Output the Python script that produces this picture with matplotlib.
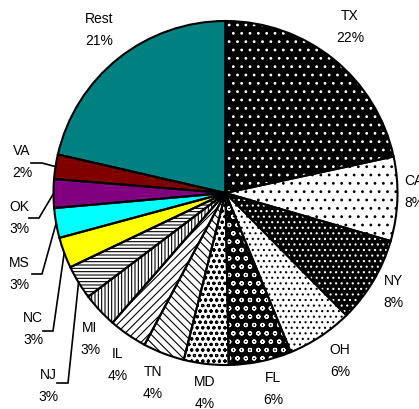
import matplotlib
matplotlib.use("Agg")
import matplotlib.pyplot as plt
import numpy as np

# ---- data ----
states = ['TX', 'CA', 'NY', 'OH', 'FL', 'MD', 'TN', 'IL', 'MI', 'NJ', 'NC', 'MS', 'OK', 'VA', 'Rest']
values = [21.6, 7.9, 8.1, 6.2, 5.9, 4.2, 3.9, 3.6, 3.3, 3.2, 2.9, 2.8, 2.7, 2.3, 21.4]

# ---- styles ----
faces = ['black', 'white', 'black', 'white', 'black', 'white', 'white', 'white',
         'white', 'white', '#FFFF00', '#00FFFF', '#800080', '#800000', '#008080']
hatch_colors = ['white', 'black', 'white', 'black', 'white', 'black', 'black', 'black',
                'black', 'black', '#FFFF00', '#00FFFF', '#800080', '#800000', '#008080']
hatches = ['..', '..', '...', '...', 'oo', 'ooo', '\\\\\\\\', '////',
           '|||||', '-----', None, None, None, None, None]

# label centres in pixel layout (x, y from top)
label_pos = {
    'TX': (350, 26.5), 'CA': (414, 192), 'NY': (393, 292), 'OH': (340, 361),
    'FL': (273, 389), 'MD': (205, 393), 'TN': (153, 383), 'IL': (118, 365),
    'MI': (90, 339), 'NJ': (48, 386), 'NC': (33, 329), 'MS': (19, 274),
    'OK': (19, 218), 'VA': (22, 162), 'Rest': (99, 30),
}
# leader lines: (x start, x elbow, y) in pixel layout
leaders = {
    'VA': (31, 42, 163), 'OK': (29, 39, 218), 'MS': (32, 42, 274),
    'NC': (43, 53, 331), 'NJ': (57, 68, 383),
}

W, H = 419, 409
plt.rcParams['hatch.linewidth'] = 0.8
fig = plt.figure(figsize=(W / 100, H / 100), dpi=100)
ax = fig.add_axes([0, 0, 1, 1])

cx, cy, R = 225.5, H - 193, 172

wedges, _ = ax.pie(values, startangle=90, counterclock=False,
                   center=(cx, cy), radius=R, colors=faces,
                   wedgeprops=dict(linewidth=0), frame=True)
for w, h, hc in zip(wedges, hatches, hatch_colors):
    w.set_edgecolor(hc)
    if h:
        w.set_hatch(h)

outl, _ = ax.pie(values, startangle=90, counterclock=False,
                 center=(cx, cy), radius=R,
                 wedgeprops=dict(fill=False, edgecolor='black', linewidth=1.5),
                 frame=True)

font = dict(family='Liberation Sans', fontsize=10, color='black',
            ha='center', va='center')
for s, v in zip(states, values):
    x, y = label_pos[s]
    ax.text(x, H - (y - 11), s, **font)
    ax.text(x, H - (y + 11), f"{round(v)}%", **font)

# leader lines ending on the wedge edge at mid-angle
total = sum(values)
start = 90.0
mids = {}
for s, v in zip(states, values):
    ang = v / total * 360
    mids[s] = start - ang / 2
    start -= ang
for s, (x0, x1, y) in leaders.items():
    a = np.deg2rad(mids[s])
    ex, ey = cx + R * np.cos(a), cy + R * np.sin(a)
    ax.plot([x0, x1, ex], [H - y, H - y, ey], color='black', lw=1.2,
            solid_joinstyle='miter')

ax.set_xlim(0, W)
ax.set_ylim(0, H)
ax.axis('off')
fig.savefig('out.png', dpi=100)
